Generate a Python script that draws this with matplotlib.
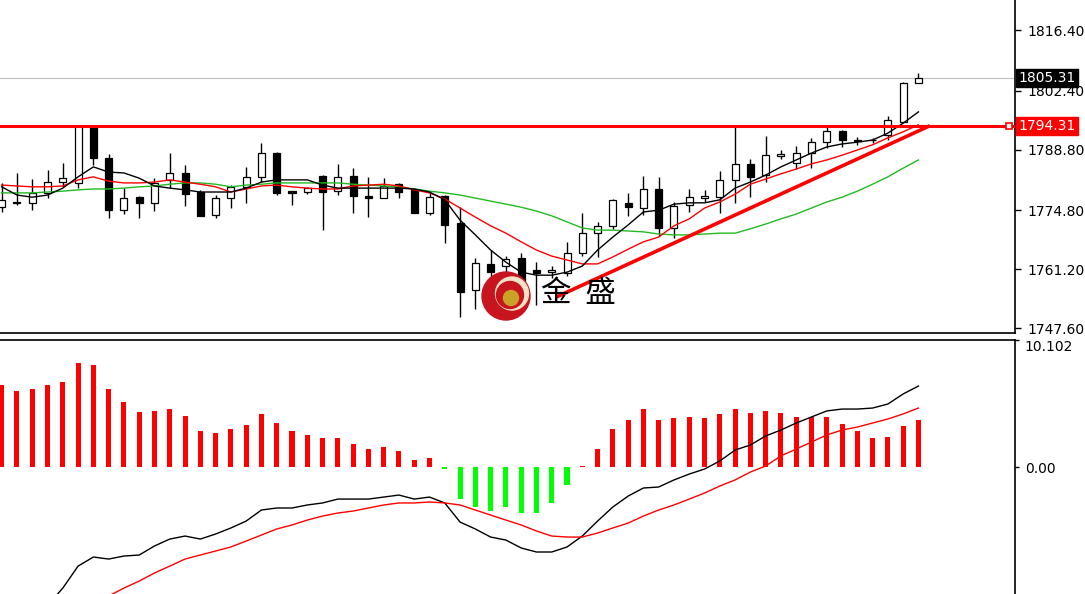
import numpy as np
import matplotlib.pyplot as plt
from matplotlib.patches import Circle

# price data, one entry per bar
opens = [1775.5, 1776.6, 1776.5, 1778.8, 1781.3, 1781.1, 1794.2, 1786.9, 1774.8, 1777.8,
         1776.5, 1781.8, 1783.4, 1779.0, 1773.7, 1777.6, 1780.2, 1782.5, 1788.0, 1779.2,
         1779.0, 1782.7, 1779.2, 1782.7, 1778.1, 1777.6, 1780.8, 1779.5, 1774.2, 1778.1,
         1771.8, 1756.4, 1762.4, 1761.9, 1763.8, 1761.0, 1760.5, 1760.3, 1764.9, 1769.5,
         1771.2, 1776.5, 1775.3, 1779.7, 1770.7, 1776.0, 1777.7, 1777.8, 1781.8, 1785.5,
         1782.9, 1787.4, 1785.7, 1788.0, 1790.5, 1793.1, 1790.7, 1790.9, 1792.2, 1795.2,
         1804.2]
highs = [1781.1, 1783.4, 1782.0, 1784.1, 1785.7, 1794.3, 1794.3, 1787.8, 1779.9, 1778.1,
         1782.2, 1788.0, 1785.2, 1779.5, 1778.3, 1780.6, 1784.8, 1790.3, 1788.2, 1779.2,
         1780.2, 1782.9, 1785.5, 1784.5, 1782.5, 1782.2, 1781.1, 1779.9, 1778.8, 1778.3,
         1775.5, 1763.8, 1765.6, 1764.2, 1764.9, 1762.8, 1761.9, 1767.5, 1774.2, 1772.1,
         1777.4, 1778.8, 1782.7, 1782.5, 1776.7, 1779.7, 1779.5, 1783.9, 1794.2, 1786.6,
         1791.9, 1788.7, 1789.6, 1791.5, 1794.0, 1793.3, 1791.7, 1791.5, 1796.6, 1804.4,
         1806.5]
lows = [1774.4, 1776.0, 1774.8, 1777.6, 1780.2, 1779.9, 1785.2, 1773.0, 1773.9, 1773.0,
        1774.6, 1779.9, 1775.8, 1773.5, 1773.0, 1775.3, 1776.5, 1781.3, 1778.3, 1776.0,
        1778.5, 1770.2, 1778.3, 1774.2, 1773.2, 1777.6, 1777.6, 1774.2, 1773.7, 1767.2,
        1750.1, 1752.0, 1759.1, 1759.8, 1755.2, 1752.9, 1759.1, 1759.6, 1764.2, 1764.0,
        1770.5, 1773.5, 1773.7, 1768.8, 1768.4, 1774.4, 1776.7, 1774.2, 1776.5, 1777.8,
        1781.3, 1786.6, 1784.3, 1784.5, 1789.2, 1789.4, 1789.9, 1790.3, 1791.0, 1794.9,
        1804.2]
closes = [1777.2, 1776.4, 1778.8, 1781.3, 1782.2, 1794.2, 1786.9, 1774.8, 1777.6, 1776.5,
          1781.1, 1783.4, 1778.5, 1773.5, 1777.6, 1780.2, 1782.5, 1788.0, 1778.8, 1778.8,
          1779.9, 1779.0, 1782.5, 1778.1, 1777.6, 1780.4, 1779.0, 1774.2, 1777.8, 1771.4,
          1755.9, 1762.6, 1760.5, 1763.5, 1756.4, 1760.3, 1761.0, 1764.9, 1769.5, 1771.2,
          1777.2, 1775.5, 1779.7, 1770.7, 1775.8, 1777.8, 1778.0, 1781.8, 1785.5, 1782.5,
          1787.5, 1787.7, 1788.0, 1790.5, 1793.1, 1791.0, 1790.9, 1791.1, 1795.6, 1804.2,
          1805.31]

# moving averages as drawn on the chart
ma_fast = [1780.2, 1778.3, 1777.8, 1778.3, 1779.9, 1782.5, 1784.8, 1783.6, 1783.4, 1782.2,
           1780.4, 1779.9, 1779.5, 1779.0, 1779.0, 1779.0, 1779.9, 1781.3, 1781.8, 1781.8,
           1781.8, 1780.6, 1779.9, 1779.9, 1779.9, 1779.9, 1779.9, 1779.7, 1779.0, 1777.2,
           1772.5, 1769.1, 1765.6, 1762.8, 1760.5, 1759.8, 1759.8, 1760.5, 1761.9, 1765.6,
           1768.6, 1771.4, 1774.4, 1774.8, 1776.2, 1776.5, 1776.5, 1777.2, 1779.9, 1781.3,
           1782.9, 1784.8, 1786.4, 1788.0, 1789.4, 1790.1, 1790.5, 1791.0, 1792.6, 1794.9,
           1797.5]
ma_mid = [1780.6, 1780.4, 1780.2, 1780.2, 1780.4, 1781.8, 1782.5, 1781.5, 1781.1, 1781.1,
          1781.3, 1781.8, 1781.3, 1780.8, 1780.2, 1779.0, 1779.7, 1780.4, 1780.6, 1780.2,
          1779.9, 1779.7, 1779.7, 1780.4, 1780.6, 1780.8, 1780.4, 1779.5, 1778.8, 1777.4,
          1775.3, 1773.2, 1771.2, 1769.5, 1767.5, 1765.6, 1764.2, 1763.3, 1762.4, 1762.4,
          1764.0, 1765.8, 1767.5, 1768.6, 1771.2, 1772.8, 1775.3, 1776.7, 1778.5, 1780.8,
          1782.0, 1783.2, 1784.3, 1785.5, 1786.4, 1787.5, 1788.7, 1789.9, 1791.5, 1792.9,
          1794.5]
ma_slow = [1778.8, 1778.8, 1778.8, 1779.0, 1779.2, 1779.5, 1779.7, 1779.7, 1779.9, 1780.2,
           1780.4, 1780.8, 1781.1, 1781.1, 1780.8, 1780.2, 1780.6, 1780.8, 1781.1, 1781.1,
           1781.1, 1781.1, 1781.1, 1780.8, 1780.6, 1780.4, 1780.2, 1779.7, 1779.2, 1778.8,
           1778.3, 1777.6, 1776.9, 1776.2, 1775.5, 1774.6, 1773.5, 1772.1, 1770.7, 1770.2,
           1770.2, 1770.0, 1769.8, 1769.3, 1769.1, 1769.1, 1769.3, 1769.5, 1769.5, 1770.5,
           1771.6, 1772.8, 1773.9, 1775.3, 1776.7, 1777.8, 1779.2, 1780.8, 1782.5, 1784.5,
           1786.4]

# MACD panel
macd_hist = [6.52, 6.07, 6.2, 6.52, 6.79, 8.25, 8.09, 6.2, 5.2, 4.35,
             4.48, 4.61, 4.03, 2.89, 2.73, 3.02, 3.32, 4.19, 3.48, 2.89,
             2.57, 2.28, 2.28, 1.85, 1.41, 1.57, 1.27, 0.56, 0.69, -0.15,
             -2.57, -3.16, -3.47, -3.16, -3.63, -3.63, -2.89, -1.43, 0.1, 1.43,
             3.02, 3.74, 4.61, 3.74, 3.87, 4.0, 3.87, 4.19, 4.61, 4.32,
             4.45, 4.32, 4.0, 4.0, 4.0, 3.45, 2.89, 2.28, 2.41, 3.29,
             3.74]
macd_main = [np.nan, np.nan, np.nan, -11.0, -9.63, -7.88, -7.16, -7.32, -7.08, -7.0,
             -6.28, -5.73, -5.49, -5.73, -5.33, -4.85, -4.30, -3.42, -3.26, -3.26,
             -3.02, -2.86, -2.55, -2.55, -2.55, -2.39, -2.23, -2.55, -2.39, -2.86,
             -4.38, -4.93, -5.57, -5.81, -6.44, -6.76, -6.76, -6.36, -5.49, -4.30,
             -3.18, -2.31, -1.67, -1.59, -1.03, -0.56, -0.16, 0.48, 1.35, 1.75,
             2.47, 2.94, 3.50, 3.98, 4.46, 4.61, 4.61, 4.69, 5.01, 5.81,
             6.44]
macd_signal = [np.nan] * 7 + [
    -10.26, -9.63, -9.07,
    -8.43, -7.88, -7.32, -7.0, -6.68, -6.36, -5.89, -5.41, -4.93, -4.61,
    -4.22, -3.90, -3.66, -3.50, -3.26, -3.02, -2.86, -2.86, -2.78, -2.86,
    -3.02, -3.42, -3.82, -4.22, -4.61, -5.09, -5.49, -5.57, -5.57, -5.25,
    -4.85, -4.46, -3.90, -3.42, -3.02, -2.55, -2.07, -1.51, -1.03, -0.40,
    0.08, 0.88, 1.43, 1.99, 2.55, 2.94, 3.18, 3.50, 3.82, 4.22,
    4.69]

resistance = 1794.31
last_price = 1805.31
trend_x = [36.3, 60.75]
trend_y = [1754.75, 1794.31]

price_ticks = [1816.40, 1802.40, 1788.80, 1774.80, 1761.20, 1747.60]
macd_max = 10.102

W, H = 1085, 594
fig = plt.figure(figsize=(W / 100, H / 100), dpi=100)
fig.patch.set_facecolor('white')
ax = fig.add_axes([0, 261 / H, 1015 / W, 333 / H])
ax2 = fig.add_axes([0, 0, 1015 / W, 254 / H])

idx = np.arange(len(closes))
o = np.array(opens)
c = np.array(closes)
up = c >= o

# candles
ax.vlines(idx, lows, highs, color='black', lw=1, zorder=2)
ax.bar(idx, np.abs(c - o), bottom=np.minimum(o, c), width=0.46,
       color=np.where(up, 'white', 'black'), edgecolor='black', linewidth=0.9, zorder=3)

ax.plot(idx, ma_slow, color='#22bb22', lw=1, zorder=4)
ax.plot(idx, ma_mid, color='#ff0000', lw=1, zorder=4)
ax.plot(idx, ma_fast, color='black', lw=1, zorder=4)

ax.axhline(last_price, color='#c0c0c0', lw=0.8, zorder=1)
ax.axhline(resistance, color='#ff0000', lw=2.2, zorder=5)
ax.plot(trend_x, trend_y, color='#ff0000', lw=2.6, zorder=5, solid_capstyle='butt')
ax.plot([0.994], [resistance], marker='s', ms=4, mfc='white', mec='#ff0000', mew=1.2,
        transform=ax.get_yaxis_transform(), zorder=6, clip_on=False)

ax.set_xlim(-0.111, 66.32)
ax.set_ylim(1746.45, 1823.33)
ax.set_yticks(price_ticks)
ax.set_yticklabels(['%.2f' % v for v in price_ticks])
ax.yaxis.tick_right()
ax.tick_params(axis='y', direction='out', length=4, width=1, pad=5, labelsize=10)
ax.set_xticks([])
for s in ['left', 'top']:
    ax.spines[s].set_visible(False)
for s in ['right', 'bottom']:
    ax.spines[s].set_linewidth(1.2)

lbl = dict(transform=ax.get_yaxis_transform(), ha='left', va='center', fontsize=10,
           color='white', clip_on=False, zorder=10)
ax.text(1.0035, last_price, '%.2f' % last_price,
        bbox=dict(boxstyle='square,pad=0.15', fc='black', ec='black'), **lbl)
ax.text(1.0035, resistance, '%.2f' % resistance,
        bbox=dict(boxstyle='square,pad=0.15', fc='#ff0000', ec='#ff0000'), **lbl)

# watermark logo
lax = fig.add_axes([481 / W, (H - 321) / H, 50 / W, 50 / H])
lax.set_xlim(0, 1)
lax.set_ylim(0, 1)
lax.axis('off')
lax.add_patch(Circle((0.5, 0.5), 0.48, color='#c8141e'))
lax.add_patch(Circle((0.62, 0.55), 0.33, color='#f3e2c6'))
lax.add_patch(Circle((0.58, 0.52), 0.27, color='#c8141e'))
lax.add_patch(Circle((0.6, 0.46), 0.15, color='#c9a227'))
fig.text(541 / W, (H - 293) / H, '金  盛', fontsize=22, family=['Noto Sans CJK SC', 'DejaVu Sans'],
         ha='left', va='center', color='black')

# MACD
hcol = ['#ff0000' if v >= 0 else '#00ff00' for v in macd_hist]
ax2.bar(idx, macd_hist, width=0.33, color=hcol, zorder=2)
ax2.plot(idx, macd_main, color='black', lw=1, zorder=3)
ax2.plot(idx, macd_signal, color='#ff0000', lw=1, zorder=3)
ax2.set_xlim(-0.111, 66.32)
ax2.set_ylim(-10.1, macd_max)
ax2.set_yticks([0, macd_max])
ax2.set_yticklabels(['0.00', '%.3f' % macd_max])
ax2.yaxis.tick_right()
ax2.tick_params(axis='y', direction='out', length=3, width=1, pad=4, labelsize=10)
ax2.get_yticklabels()[1].set_va('top')
ax2.set_xticks([])
for s in ['left', 'bottom']:
    ax2.spines[s].set_visible(False)
for s in ['right', 'top']:
    ax2.spines[s].set_linewidth(1.2)

fig.savefig('out.png', dpi=100, facecolor='white')
